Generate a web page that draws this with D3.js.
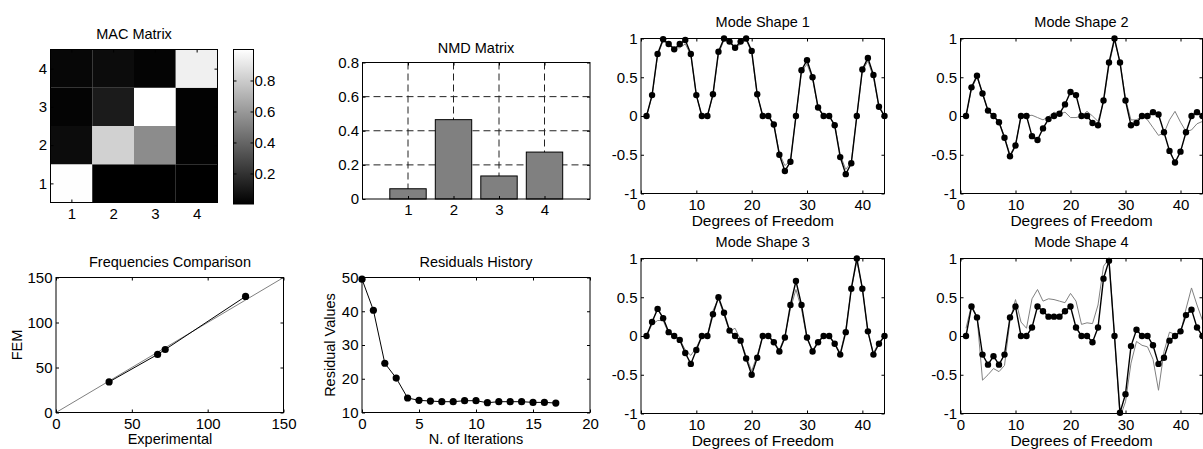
<!DOCTYPE html>
<html>
<head>
<meta charset="utf-8">
<script src="https://cdn.jsdelivr.net/npm/d3@7"></script>
<style>
body { margin: 0; background: #fff; }
svg text { font-family: "Liberation Sans", Arial, sans-serif; font-size: 14.5px; fill: #000; }
svg .tick text { font-size: 15px; }
</style>
</head>
<body>
<script>
// MAC matrix, row i = mode on the y axis (1 at bottom), column j = x axis
var macIdx = [1, 2, 3, 4];
var macValues = [
	[0.998, 0.004, 0.004, 0.003],
	[0.05, 0.82, 0.55, 0.01],
	[0.02, 0.11, 1.0, 0.01],
	[0.03, 0.05, 0.02, 0.94]
];
var cbarTicks = [0.2, 0.4, 0.6, 0.8];

// NMD
var nmdModes = [1, 2, 3, 4];
var nmdValues = [0.06, 0.465, 0.135, 0.275];
var nmdTicks = [0, 0.2, 0.4, 0.6, 0.8];

// Frequencies
var freqExp = [35, 67, 72, 125];
var freqFem = [34, 64.5, 70, 129];
var freqTicks = [0, 50, 100, 150];

// Residuals
var residIter = d3.range(0, 18);
var residValues = [49.5, 40.3, 24.6, 20.2, 14.3, 13.6, 13.4, 13.2, 13.2, 13.5, 13.5, 12.9, 13.2, 13.2, 13.2, 13.0, 13.0, 12.8];
var residXTicks = [0, 5, 10, 15, 20];
var residYTicks = [10, 20, 30, 40, 50];

// Mode shapes (exp = black with markers, fem = gray)
var dof = d3.range(1, 45);
var dofTicks = [0, 10, 20, 30, 40];
var modeTicks = [-1, -0.5, 0, 0.5, 1];
var mode1Exp = [0, 0.27, 0.8, 0.99, 0.93, 0.86, 0.93, 0.98, 0.8, 0.27, 0, 0, 0.28, 0.83, 1.0, 0.96, 0.88, 0.96, 1.0, 0.84, 0.28, 0, 0, -0.11, -0.5, -0.71, -0.59, 0, 0.59, 0.72, 0.5, 0.11, 0, 0, -0.12, -0.53, -0.75, -0.61, 0, 0.6, 0.75, 0.53, 0.12, 0];
var mode1Fem = [0, 0.26, 0.78, 0.97, 0.92, 0.88, 0.88, 0.93, 0.79, 0.27, 0, 0, 0.27, 0.8, 0.98, 0.95, 0.87, 0.93, 0.98, 0.82, 0.27, 0, 0, -0.1, -0.48, -0.64, -0.58, 0, 0.57, 0.67, 0.48, 0.1, 0, 0, -0.11, -0.5, -0.69, -0.59, 0, 0.58, 0.71, 0.5, 0.11, 0];
var mode2Exp = [0, 0.37, 0.52, 0.29, 0.07, 0, -0.08, -0.28, -0.52, -0.38, 0, 0, -0.26, -0.31, -0.16, -0.04, 0, 0.03, 0.15, 0.31, 0.27, 0, 0, -0.09, -0.12, 0.2, 0.69, 1.0, 0.69, 0.2, -0.12, -0.09, 0, 0, 0.05, 0.02, -0.21, -0.45, -0.6, -0.46, -0.21, 0, 0.05, 0];
var mode2Fem = [0, 0.35, 0.5, 0.3, 0.06, 0, -0.07, -0.27, -0.5, -0.37, 0, 0, 0.01, -0.02, -0.05, -0.01, 0.05, 0.02, 0.05, -0.02, -0.02, 0, 0.06, 0, -0.07, 0.18, 0.65, 0.98, 0.7, 0.22, -0.05, -0.05, 0, -0.05, -0.15, -0.25, -0.22, -0.05, 0.06, -0.08, -0.2, -0.18, -0.1, -0.07];
var mode3Exp = [0, 0.18, 0.35, 0.23, 0.05, 0, -0.05, -0.22, -0.36, -0.18, 0, 0, 0.28, 0.5, 0.3, 0.07, 0, -0.06, -0.29, -0.5, -0.28, 0, 0, -0.08, -0.2, -0.02, 0.4, 0.71, 0.4, -0.02, -0.2, -0.08, 0, 0, -0.1, -0.24, 0.05, 0.61, 1.0, 0.61, 0.06, -0.24, -0.1, 0];
var mode3Fem = [0, 0.15, 0.2, 0.2, 0.03, 0, -0.04, -0.18, -0.25, -0.15, 0, 0, 0.33, 0.48, 0.27, 0.06, 0.1, -0.05, -0.26, -0.45, -0.25, 0, 0, -0.07, -0.18, 0, 0.35, 0.6, 0.35, -0.04, -0.18, -0.07, 0, 0, -0.09, -0.22, 0.08, 0.6, 0.97, 0.62, 0.05, -0.22, -0.08, 0];
var mode4Exp = [0, 0.38, 0.24, -0.24, -0.37, -0.26, -0.37, -0.24, 0.24, 0.38, 0, 0, 0.11, 0.38, 0.32, 0.25, 0.25, 0.25, 0.32, 0.38, 0.11, 0, 0, -0.08, 0.11, 0.74, 0.97, 0, -0.99, -0.75, -0.13, 0.08, 0, 0, -0.12, -0.36, -0.28, -0.06, 0, 0.06, 0.27, 0.34, 0.11, 0];
var mode4Fem = [0.1, 0.4, 0.25, -0.57, -0.5, -0.42, -0.46, -0.38, 0.2, 0.47, 0.18, 0.1, 0.48, 0.6, 0.45, 0.48, 0.47, 0.45, 0.43, 0.55, 0.45, 0.15, 0.17, 0.16, 0.4, 0.9, 1.0, 0, -1.05, -0.85, -0.35, -0.07, -0.12, -0.14, -0.3, -0.7, -0.2, 0.05, 0.02, 0.03, 0.35, 0.62, 0.4, 0.2];

var w = 1203;
var h = 449;
var fmt = function(d) { return String(d); };

var svg = d3.select('body')
	.append('svg')
	.attr('width', w)
	.attr('height', h);
var defs = svg.append('defs');
var clipCount = 0;

// set up scales, clip and group for one axes box
function panel(b, xDom, yDom) {
	var x = d3.scaleLinear().domain(xDom).range([b.x0, b.x1]);
	var y = d3.scaleLinear().domain(yDom).range([b.y1, b.y0]);
	var id = 'clip' + (clipCount++);
	defs.append('clipPath').attr('id', id)
		.append('rect')
		.attr('x', b.x0).attr('y', b.y0)
		.attr('width', b.x1 - b.x0).attr('height', b.y1 - b.y0);
	var g = svg.append('g');
	return { b: b, x: x, y: y, g: g, clip: 'url(#' + id + ')' };
}

// MATLAB style box with inward ticks on all four sides
function axes(p, xTicks, yTicks) {
	var b = p.b;
	var g = p.g.append('g');
	var ax = [
		[d3.axisBottom(p.x).tickValues(xTicks).tickFormat(fmt).tickPadding(5.5), 0, b.y1],
		[d3.axisTop(p.x).tickValues(xTicks).tickFormat(''), 0, b.y0],
		[d3.axisLeft(p.y).tickValues(yTicks).tickFormat(fmt).tickPadding(3.5), b.x0, 0],
		[d3.axisRight(p.y).tickValues(yTicks).tickFormat(''), b.x1, 0]
	];
	ax.forEach(function(a) {
		var s = g.append('g')
			.attr('transform', 'translate(' + a[1] + ',' + a[2] + ')')
			.call(a[0].tickSize(-3));
		s.select('.domain').remove();
		s.selectAll('line').attr('stroke', '#000');
	});
	g.append('rect')
		.attr('x', b.x0).attr('y', b.y0)
		.attr('width', b.x1 - b.x0).attr('height', b.y1 - b.y0)
		.attr('fill', 'none').attr('stroke', '#000').attr('stroke-width', 1);
}

function label(txt, x, y, rot) {
	var t = svg.append('text')
		.attr('text-anchor', 'middle')
		.text(txt);
	if (rot) t.attr('transform', 'translate(' + x + ',' + y + ') rotate(-90)');
	else t.attr('x', x).attr('y', y);
	return t;
}

// ---- MAC matrix
var mac = panel({ x0: 50.5, x1: 217.5, y0: 49.5, y1: 202.5 }, [0.5, 4.5], [0.5, 4.5]);
var macFlat = [];
macValues.forEach(function(row, i) {
	row.forEach(function(v, j) { macFlat.push({ r: macIdx[i], c: macIdx[j], v: v }); });
});
var macExt = d3.extent(macFlat, function(d) { return d.v; });
var gray = d3.scaleLinear().domain(macExt).range(['#000', '#fff']);
mac.g.selectAll('rect.cell')
	.data(macFlat)
	.enter()
	.append('rect')
	.attr('x', function(d) { return mac.x(d.c - 0.5); })
	.attr('y', function(d) { return mac.y(d.r + 0.5); })
	.attr('width', mac.x(1.5) - mac.x(0.5))
	.attr('height', mac.y(0.5) - mac.y(1.5))
	.attr('fill', function(d) { return gray(d.v); });
axes(mac, macIdx, macIdx);
label('MAC Matrix', 134, 38.5);

// colorbar
var cb = { x0: 233.5, x1: 253.5, y0: 49.5, y1: 204 };
var cy = d3.scaleLinear().domain(macExt).range([cb.y1, cb.y0]);
var grad = defs.append('linearGradient').attr('id', 'cbgrad')
	.attr('x1', 0).attr('y1', 1).attr('x2', 0).attr('y2', 0);
grad.append('stop').attr('offset', 0).attr('stop-color', gray(macExt[0]));
grad.append('stop').attr('offset', 1).attr('stop-color', gray(macExt[1]));
svg.append('rect')
	.attr('x', cb.x0).attr('y', cb.y0)
	.attr('width', cb.x1 - cb.x0).attr('height', cb.y1 - cb.y0)
	.attr('fill', 'url(#cbgrad)');
var cbl = svg.append('g').attr('transform', 'translate(' + cb.x0 + ',0)')
	.call(d3.axisLeft(cy).tickValues(cbarTicks).tickFormat('').tickSize(-3));
cbl.select('.domain').remove();
cbl.selectAll('line').attr('stroke', '#000');
var cbr = svg.append('g').attr('transform', 'translate(' + cb.x1 + ',0)')
	.call(d3.axisRight(cy).tickValues(cbarTicks).tickFormat(fmt).tickSize(-3).tickPadding(1));
cbr.select('.domain').remove();
cbr.selectAll('line').attr('stroke', '#000');
svg.append('rect')
	.attr('x', cb.x0).attr('y', cb.y0)
	.attr('width', cb.x1 - cb.x0).attr('height', cb.y1 - cb.y0)
	.attr('fill', 'none').attr('stroke', '#000');

// ---- NMD matrix
var nmd = panel({ x0: 362.5, x1: 590, y0: 62.5, y1: 199 }, [0, 5], [0, 0.8]);
nmd.g.selectAll('line.gx')
	.data(nmdModes)
	.enter()
	.append('line')
	.attr('x1', function(d) { return nmd.x(d); })
	.attr('x2', function(d) { return nmd.x(d); })
	.attr('y1', nmd.b.y0).attr('y2', nmd.b.y1)
	.attr('stroke', '#222').attr('stroke-dasharray', '7,4');
nmd.g.selectAll('line.gy')
	.data(nmdTicks.slice(1, 4))
	.enter()
	.append('line')
	.attr('y1', function(d) { return nmd.y(d); })
	.attr('y2', function(d) { return nmd.y(d); })
	.attr('x1', nmd.b.x0).attr('x2', nmd.b.x1)
	.attr('stroke', '#222').attr('stroke-dasharray', '7,4');
nmd.g.selectAll('rect.bar')
	.data(nmdValues)
	.enter()
	.append('rect')
	.attr('x', function(d, i) { return nmd.x(nmdModes[i] - 0.4); })
	.attr('y', function(d) { return nmd.y(d); })
	.attr('width', nmd.x(0.8) - nmd.x(0))
	.attr('height', function(d) { return nmd.y(0) - nmd.y(d); })
	.attr('fill', '#808080')
	.attr('stroke', '#000');
axes(nmd, nmdModes, nmdTicks);
label('NMD Matrix', 476, 53);

// ---- Frequencies comparison
var fq = panel({ x0: 56, x1: 283.5, y0: 277.5, y1: 412.5 }, [0, 150], [0, 150]);
fq.g.append('line')
	.attr('x1', fq.x(0)).attr('y1', fq.y(0))
	.attr('x2', fq.x(150)).attr('y2', fq.y(150))
	.attr('stroke', '#808080');
fq.g.append('path')
	.datum(freqExp)
	.attr('fill', 'none').attr('stroke', '#000')
	.attr('d', d3.line()
		.x(function(d) { return fq.x(d); })
		.y(function(d, i) { return fq.y(freqFem[i]); }));
fq.g.selectAll('circle')
	.data(freqExp)
	.enter()
	.append('circle')
	.attr('cx', function(d) { return fq.x(d); })
	.attr('cy', function(d, i) { return fq.y(freqFem[i]); })
	.attr('r', 3.6);
axes(fq, freqTicks, freqTicks);
label('Frequencies Comparison', 170, 266.5);
label('Experimental', 170, 444);
label('FEM', 22, 345, true);

// ---- Residuals history
var rs = panel({ x0: 362, x1: 590, y0: 277.5, y1: 412.5 }, [0, 20], [10, 50]);
rs.g.append('path')
	.datum(residValues)
	.attr('fill', 'none').attr('stroke', '#000')
	.attr('d', d3.line()
		.x(function(d, i) { return rs.x(residIter[i]); })
		.y(function(d) { return rs.y(d); }));
rs.g.selectAll('circle')
	.data(residValues)
	.enter()
	.append('circle')
	.attr('cx', function(d, i) { return rs.x(residIter[i]); })
	.attr('cy', function(d) { return rs.y(d); })
	.attr('r', 3.6);
axes(rs, residXTicks, residYTicks);
label('Residuals History', 476, 266.5);
label('N. of Iterations', 476, 444);
label('Residual Values', 335, 345, true);

// ---- Mode shapes
function modeShape(b, exp, fem, title, titleY, xlabY) {
	var p = panel(b, [0, 44], [-1, 1]);
	var line = d3.line()
		.x(function(d, i) { return p.x(dof[i]); })
		.y(function(d) { return p.y(d); });
	p.g.append('path').datum(fem)
		.attr('clip-path', p.clip)
		.attr('fill', 'none').attr('stroke', '#808080').attr('stroke-width', 1)
		.attr('d', line);
	p.g.append('path').datum(exp)
		.attr('clip-path', p.clip)
		.attr('fill', 'none').attr('stroke', '#000').attr('stroke-width', 1.4)
		.attr('d', line);
	p.g.selectAll('circle')
		.data(exp)
		.enter()
		.append('circle')
		.attr('cx', function(d, i) { return p.x(dof[i]); })
		.attr('cy', function(d) { return p.y(d); })
		.attr('r', 3.2);
	axes(p, dofTicks, modeTicks);
	var cx = (b.x0 + b.x1) / 2;
	label(title, cx, titleY);
	label('Degrees of Freedom', cx, xlabY).style('font-size', '15.5px');
}

modeShape({ x0: 641, x1: 884.5, y0: 38.5, y1: 193.5 }, mode1Exp, mode1Fem, 'Mode Shape 1', 26.5, 225.5);
modeShape({ x0: 960.5, x1: 1202.5, y0: 38.5, y1: 193.5 }, mode2Exp, mode2Fem, 'Mode Shape 2', 26.5, 225.5);
modeShape({ x0: 641, x1: 884.5, y0: 258.5, y1: 413.5 }, mode3Exp, mode3Fem, 'Mode Shape 3', 247, 445.5);
modeShape({ x0: 960.5, x1: 1202.5, y0: 258.5, y1: 413.5 }, mode4Exp, mode4Fem, 'Mode Shape 4', 247, 445.5);
</script>
</body>
</html>
